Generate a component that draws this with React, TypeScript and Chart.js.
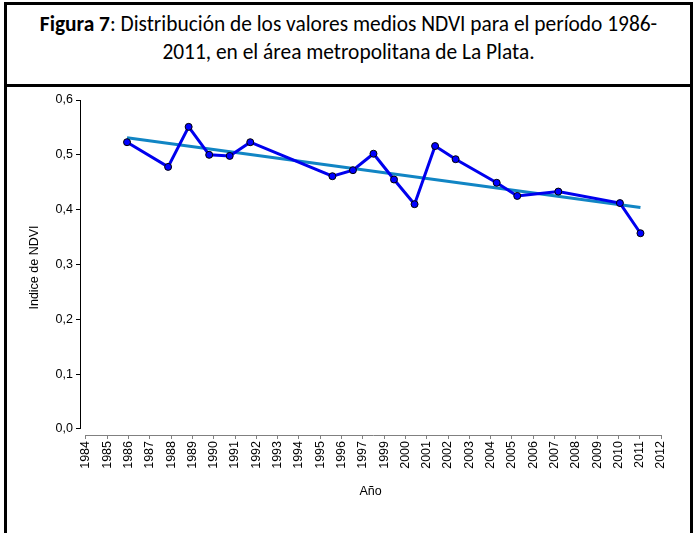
import React, { useEffect, useRef } from "react";
import { Chart, registerables } from "chart.js";

Chart.register(...registerables);

const years = [1986, 1988, 1989, 1990, 1991, 1992, 1996, 1997, 1998, 1999, 2000, 2001, 2002, 2004, 2005, 2007, 2010, 2011];
const ndvi = [0.523, 0.478, 0.551, 0.5, 0.498, 0.523, 0.461, 0.472, 0.502, 0.455, 0.41, 0.516, 0.492, 0.449, 0.425, 0.433, 0.412, 0.357];

const trendYears = [1986, 2011];
const trendValues = [0.531, 0.404];

const xTickLabels = [
  "1984", "1985", "1986", "1987", "1988", "1989", "1990", "1991", "1992", "1993", "1994", "1995", "1996", "1997",
  "1999", "2000", "2001", "2002", "2003", "2004", "2005", "2006", "2007", "2008", "2009", "2010", "2011", "2012",
];
const xFirst = 1984;
const xLast = 2012;

const yTickValues = [0, 0.1, 0.2, 0.3, 0.4, 0.5, 0.6];
const yTickLabels = ["0,0", "0,1", "0,2", "0,3", "0,4", "0,5", "0,6"];

const axisFont = "'Liberation Sans', Arial, sans-serif";

export default function App() {
  const canvasRef = useRef<HTMLCanvasElement | null>(null);

  useEffect(() => {
    const canvas = canvasRef.current;
    if (!canvas) return;

    const xStep = (xLast - xFirst) / (xTickLabels.length - 1);
    const xTickPositions = xTickLabels.map((_, i) => xFirst + i * xStep);

    const axisLines = {
      id: "axisLines",
      beforeDatasetsDraw(chart: any) {
        const { ctx, chartArea, scales } = chart;
        const xs = scales.x;
        const ys = scales.y;
        ctx.save();
        ctx.lineWidth = 1;
        ctx.strokeStyle = "#000000";
        const yx = Math.round(chartArea.left) + 0.5;
        ctx.beginPath();
        ctx.moveTo(yx, ys.getPixelForValue(yTickValues[yTickValues.length - 1]));
        ctx.lineTo(yx, ys.getPixelForValue(yTickValues[0]));
        ctx.stroke();
        ctx.strokeStyle = "#808080";
        const xy = Math.round(chartArea.bottom) + 0.5;
        ctx.beginPath();
        ctx.moveTo(xs.getPixelForValue(xFirst), xy);
        ctx.lineTo(xs.getPixelForValue(xLast), xy);
        ctx.stroke();
        ctx.restore();
      },
    };

    const chart = new Chart(canvas, {
      type: "line",
      data: {
        datasets: [
          {
            label: "NDVI",
            data: years.map((y, i) => ({ x: y, y: ndvi[i] })),
            borderColor: "#0000EE",
            borderWidth: 3,
            pointRadius: 3.5,
            pointBackgroundColor: "#0000FF",
            pointBorderColor: "#000000",
            pointBorderWidth: 1,
            tension: 0,
          },
          {
            label: "Tendencia",
            data: trendYears.map((y, i) => ({ x: y, y: trendValues[i] })),
            borderColor: "#1185C4",
            borderWidth: 3,
            pointRadius: 0,
            tension: 0,
          },
        ],
      },
      plugins: [axisLines],
      options: {
        animation: false,
        responsive: false,
        devicePixelRatio: 1,
        layout: { padding: { top: 100, right: 35, bottom: 28, left: 0 } },
        plugins: { legend: { display: false }, tooltip: { enabled: false }, title: { display: false } },
        scales: {
          x: {
            type: "linear",
            min: 1983.71,
            max: 2012,
            border: { display: false },
            grid: { drawOnChartArea: false, drawTicks: true, tickLength: 4, color: "#808080" },
            afterBuildTicks: (scale: any) => {
              scale.ticks = xTickPositions.map((v) => ({ value: v }));
            },
            afterFit: (scale: any) => {
              scale.height = 70;
            },
            ticks: {
              autoSkip: false,
              minRotation: 90,
              maxRotation: 90,
              padding: 2,
              color: "#000000",
              font: { family: axisFont, size: 12.5 },
              callback: (_v: any, i: number) => xTickLabels[i],
            },
            title: {
              display: true,
              text: "Año",
              color: "#000000",
              font: { family: axisFont, size: 12.5 },
              padding: { top: 0, bottom: 6 },
            },
          },
          y: {
            type: "linear",
            min: -0.011,
            max: 0.6,
            border: { display: false },
            grid: { drawOnChartArea: false, drawTicks: true, tickLength: 4, color: "#000000" },
            afterBuildTicks: (scale: any) => {
              scale.ticks = yTickValues.map((v) => ({ value: v }));
            },
            afterFit: (scale: any) => {
              scale.width = 80;
            },
            ticks: {
              padding: 3,
              color: "#000000",
              font: { family: axisFont, size: 12.5 },
              callback: (_v: any, i: number) => yTickLabels[i],
            },
            title: {
              display: true,
              text: "Indice de NDVI",
              color: "#000000",
              font: { family: axisFont, size: 12.5 },
              padding: { top: 27, bottom: 0 },
            },
          },
        },
      },
    } as any);

    return () => chart.destroy();
  }, []);

  return (
    <div style={{ position: "absolute", left: 0, top: 0, width: 696, height: 533, overflow: "hidden", background: "#fff" }}>
      <div
        style={{
          position: "absolute",
          left: 4,
          top: 2,
          width: 689,
          height: 85,
          boxSizing: "border-box",
          border: "3px solid #000",
          fontFamily: "Carlito, 'Open Sans', sans-serif",
          fontSize: 21.4,
          lineHeight: "28px",
          textAlign: "center",
          paddingTop: 5,
          color: "#000",
          whiteSpace: "nowrap",
        }}
      >
        <b>Figura 7</b>: Distribución de los valores medios NDVI para el período 1986-
        <br />
        2011, en el área metropolitana de La Plata.
      </div>
      <div
        style={{
          position: "absolute",
          left: 4,
          top: 84,
          width: 689,
          height: 470,
          boxSizing: "border-box",
          border: "3px solid #000",
        }}
      />
      <canvas ref={canvasRef} width={696} height={533} style={{ position: "absolute", left: 0, top: 0 }} />
    </div>
  );
}
